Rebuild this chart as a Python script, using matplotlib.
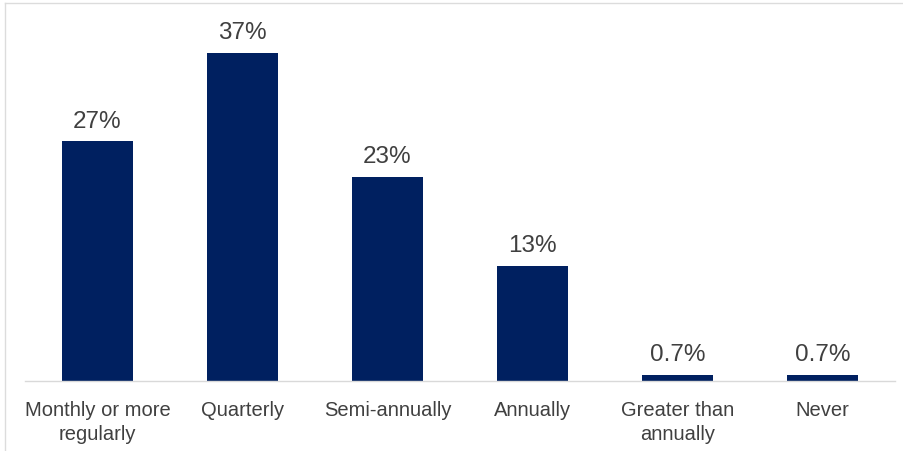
import matplotlib
matplotlib.use("Agg")
import matplotlib.pyplot as plt
from matplotlib.lines import Line2D

categories = ["Monthly or more\nregularly", "Quarterly", "Semi-annually", "Annually",
              "Greater than\nannually", "Never"]
values = [27, 37, 23, 13, 0.7, 0.7]
labels = ["27%", "37%", "23%", "13%", "0.7%", "0.7%"]

W, H = 904, 452
fig = plt.figure(figsize=(W / 100, H / 100), dpi=100)
fig.patch.set_facecolor("white")

ax_left, ax_right, ax_bottom, ax_top = 25, 895, 382, 20
ax = fig.add_axes([ax_left / W, 1 - ax_bottom / H, (ax_right - ax_left) / W, (ax_bottom - ax_top) / H])

bar_color = "#002060"
text_color = "#404040"
font = ["Liberation Sans", "DejaVu Sans"]

x = list(range(len(categories)))
ax.bar(x, values, width=0.49, color=bar_color, zorder=2)
ax.set_xlim(-0.5, len(categories) - 0.5)
ax.set_ylim(0, 40.8)

for xi, v, lab in zip(x, values, labels):
    ax.annotate(lab, (xi, v), xytext=(0, 7), textcoords="offset points",
                ha="center", va="bottom", fontsize=17.5, color=text_color, family=font)

ax.set_xticks(x)
ax.set_xticklabels(categories, fontsize=14.5, color=text_color, family=font, linespacing=1.3)
ax.tick_params(axis="x", length=0, pad=14)
ax.set_yticks([])
for s in ["top", "right", "left"]:
    ax.spines[s].set_visible(False)
ax.spines["bottom"].set_color("#d9d9d9")
ax.spines["bottom"].set_linewidth(1.0)

# light frame lines at top and left edges
fig.add_artist(Line2D([5 / W, 1], [1 - 4 / H, 1 - 4 / H], color="#dcdcdc", lw=1.0, transform=fig.transFigure))
fig.add_artist(Line2D([5 / W, 5 / W], [0, 1 - 4 / H], color="#dcdcdc", lw=1.0, transform=fig.transFigure))

fig.savefig("out.png", dpi=100, facecolor="white")
